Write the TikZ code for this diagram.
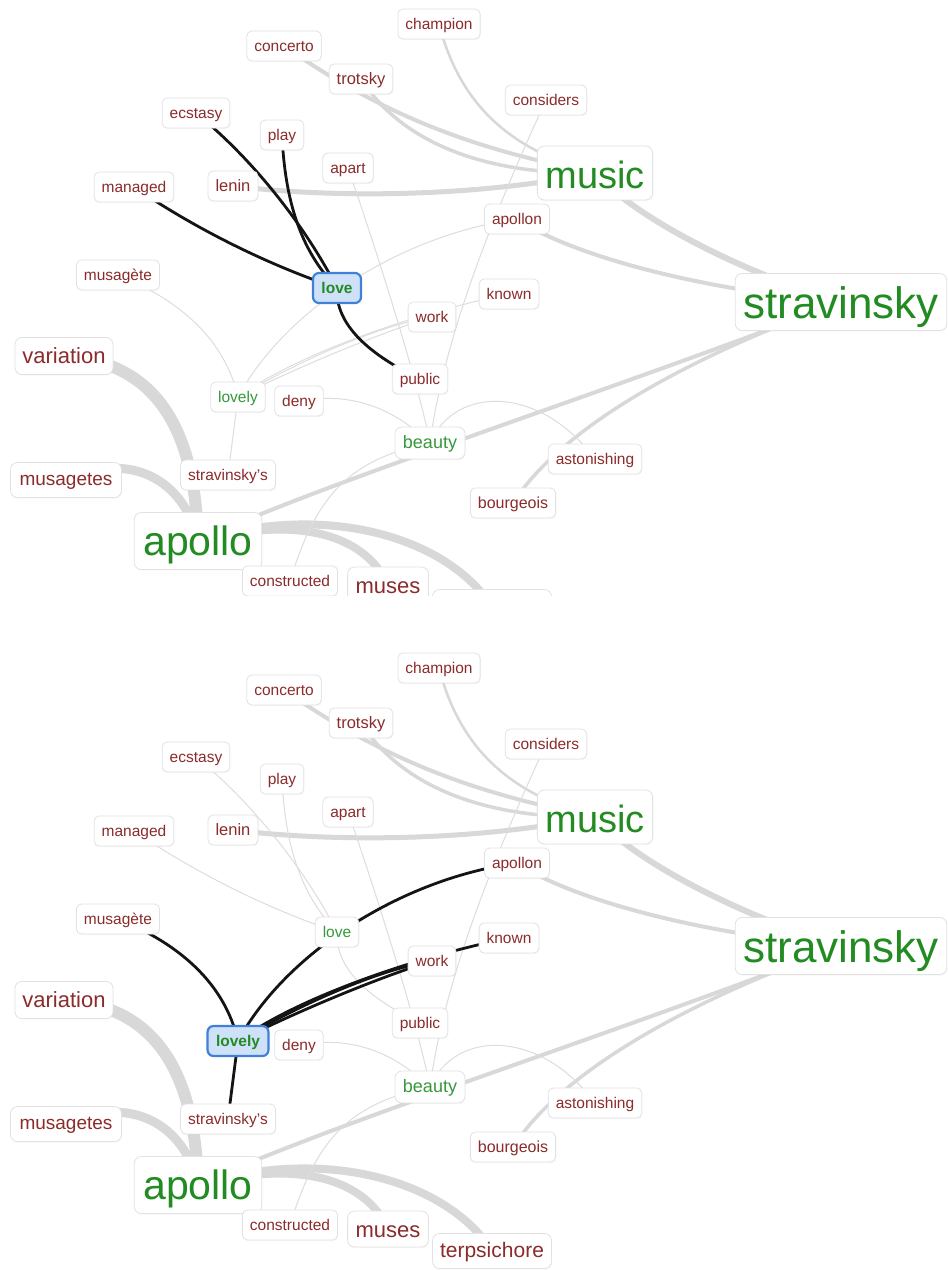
\documentclass[tikz,border=0pt]{standalone}
\usepackage{fontspec}
\setmainfont{Liberation Sans}
\usetikzlibrary{shadows}

\definecolor{wordred}{HTML}{8B2B2B}
\definecolor{wordgreen}{HTML}{228B22}
\definecolor{softgreen}{HTML}{35983A}
\definecolor{boxline}{HTML}{E2E2E2}
\definecolor{bandgray}{HTML}{D8D8D8}
\definecolor{threadgray}{HTML}{DDDDDD}
\definecolor{selfill}{HTML}{CFE1F8}
\definecolor{selline}{HTML}{3F80D8}

\pgfdeclarelayer{paper}
\pgfdeclarelayer{links}
\pgfsetlayers{paper,links,main}

\tikzset{
  word/.style={draw=boxline, line width=0.8pt, fill=white, rounded corners=5pt,
    text=wordred, inner xsep=7.5pt, inner ysep=0pt, minimum height=30pt,
    text height=11pt, text depth=0pt, font=\fontsize{15.5}{18}\selectfont,
    drop shadow={shadow xshift=0.6pt, shadow yshift=-1.2pt, opacity=0.06}},
  bigword/.style n args={3}{word, rounded corners=7pt, inner xsep=8pt,
    font=\fontsize{#1}{#1}\selectfont, minimum height=#2, text height=#3},
  hub/.style={text=wordgreen},
  soft/.style={text=softgreen},
  chosen/.style={draw=selline, line width=2.2pt, fill=selfill, rounded corners=6pt,
    text=wordgreen, font=\bfseries\fontsize{15.5}{18}\selectfont, inner xsep=8.5pt,
    inner ysep=0pt, minimum height=30pt, text height=11pt, text depth=0pt},
  band/.style={draw=bandgray, line width=#1},
  thread/.style={draw=threadgray, line width=1pt},
  hot/.style={draw=black!92, line width=2.8pt},
}

% all word boxes of one panel; #1 is the name prefix
\newcommand\wordnodes[1]{%
  \node[word] (#1champion) at (439,24) {champion};
  \node[word] (#1concerto) at (284,46) {concerto};
  \node[word, font=\fontsize{16.5}{18}\selectfont] (#1trotsky) at (361,79) {trotsky};
  \node[word] (#1considers) at (546,100) {considers};
  \node[word] (#1ecstasy) at (196,113) {ecstasy};
  \node[word] (#1play) at (282,135) {play};
  \node[word] (#1apart) at (348,168) {apart};
  \node[bigword={38}{54pt}{30pt}, hub] (#1music) at (595,173) {music};
  \node[word] (#1managed) at (134,187) {managed};
  \node[word, font=\fontsize{16.5}{18}\selectfont] (#1lenin) at (233,186) {lenin};
  \node[word] (#1apollon) at (517,219) {apollon};
  \node[word] (#1musagete) at (118,275) {musagète};
  \node[lovebox] (#1love) at (337,288) {love};
  \node[word] (#1known) at (509,294) {known};
  \node[bigword={44}{57pt}{32pt}, hub] (#1stravinsky) at (841,302) {stravinsky};
  \node[word] (#1work) at (432,317) {work};
  \node[bigword={22}{37pt}{14pt}, inner xsep=7.5pt] (#1variation) at (64,356) {variation};
  \node[word] (#1public) at (420,379) {public};
  \node[lovelybox] (#1lovely) at (238,397) {lovely};
  \node[word] (#1deny) at (299,401) {deny};
  \node[bigword={18}{32pt}{11pt}, soft] (#1beauty) at (430,443) {beauty};
  \node[word] (#1astonishing) at (595,459) {astonishing};
  \node[bigword={19}{35pt}{11pt}, inner xsep=9pt] (#1musagetes) at (66,480) {musagetes};
  \node[word] (#1stravinskys) at (228,475) {stravinsky's};
  \node[word, font=\fontsize{16}{18}\selectfont] (#1bourgeois) at (513,503) {bourgeois};
  \node[bigword={41}{57pt}{28pt}, inner xsep=9pt, hub] (#1apollo) at (198,541) {apollo};
  \node[word] (#1constructed) at (290,581) {constructed};
  \node[bigword={22}{36pt}{16pt}] (#1muses) at (388,585) {muses};
  \node[bigword={21}{35pt}{12pt}, inner xsep=7.5pt] (#1terpsichore) at (492,607) {terpsichore};
}

% links that look the same in both panels
\newcommand\wordlinks[1]{%
  \draw[band=12pt] (#1variation.center) .. controls (150,362) and (195,420) .. (#1apollo.center);
  \draw[band=9pt] (#1musagetes.center) .. controls (130,450) and (185,480) .. (#1apollo.center);
  \draw[band=8pt] (#1apollo.center) .. controls (330,500) and (450,540) .. (#1terpsichore.center);
  \draw[band=8pt] (#1apollo.center) .. controls (300,515) and (365,535) .. (#1muses.center);
  \draw[band=4pt] (#1apollo.center) .. controls (330,480) and (600,395) .. (#1stravinsky.center);
  \draw[band=6pt] (#1music.center) .. controls (640,222) and (750,275) .. (#1stravinsky.center);
  \draw[band=4pt] (#1apollon.center) .. controls (570,255) and (700,290) .. (#1stravinsky.center);
  \draw[band=3.5pt] (#1bourgeois.center) .. controls (560,430) and (680,360) .. (#1stravinsky.center);
  \draw[band=5pt] (#1lenin.center) .. controls (330,198) and (470,198) .. (#1music.center);
  \draw[band=4pt] (#1concerto.center) .. controls (390,120) and (480,150) .. (#1music.center);
  \draw[band=3.5pt] (#1trotsky.center) .. controls (400,140) and (480,175) .. (#1music.center);
  \draw[band=2.5pt] (#1champion.center) .. controls (460,105) and (510,150) .. (#1music.center);
  \draw[thread] (#1constructed.center) .. controls (315,500) and (345,460) .. (#1beauty.center);
  \draw[thread] (#1deny.center) .. controls (360,390) and (400,415) .. (#1beauty.center);
  \draw[thread] (#1beauty.center) .. controls (455,385) and (540,385) .. (#1astonishing.center);
  \draw[thread] (#1apart.center) .. controls (380,260) and (420,390) .. (#1beauty.center);
  \draw[thread] (#1considers.center) .. controls (500,200) and (445,330) .. (#1beauty.center);
}

% links of "lovely"; #2 is the line style
\newcommand\lovelylinks[2]{%
  \draw[#2] (#1musagete.center) .. controls (180,300) and (225,340) .. (#1lovely.center);
  \draw[#2] (#1lovely.center) -- (#1stravinskys.center);
  \draw[#2] (#1lovely.center) .. controls (285,310) and (400,235) .. (#1apollon.center);
  \draw[#2] (#1lovely.center) .. controls (300,360) and (380,325) .. (#1work.center);
  \draw[#2] (#1lovely.center) .. controls (300,366) and (380,333) .. (#1work.center);
  \draw[#2] (#1lovely.center) .. controls (300,352) and (420,312) .. (#1known.center);
}

% links of "love"; #2 is the line style
\newcommand\lovelinks[2]{%
  \draw[#2] (#1ecstasy.center) .. controls (260,165) and (310,235) .. (#1love.center);
  \draw[#2] (#1play.center) .. controls (285,200) and (300,250) .. (#1love.center);
  \draw[#2] (#1managed.center) .. controls (190,225) and (260,262) .. (#1love.center);
  \draw[#2] (#1love.center) .. controls (335,325) and (370,355) .. (#1public.center);
}

\begin{document}
\begin{tikzpicture}[x=1pt, y=-1pt]
  \useasboundingbox (0,0) rectangle (948,1270);
  \begin{pgfonlayer}{paper}
    \fill[white] (0,0) rectangle (948,1270);
  \end{pgfonlayer}

  % upper panel: "love" selected
  \begin{scope}[lovebox/.style={chosen},
                lovelybox/.style={word, text=softgreen}]
    \clip (0,0) rectangle (948,595);
    \wordnodes{t}
    \begin{pgfonlayer}{links}
      \begin{scope}
        \clip (0,0) rectangle (948,595);
        \wordlinks{t}
        \lovelylinks{t}{thread}
        \lovelinks{t}{hot}
      \end{scope}
    \end{pgfonlayer}
  \end{scope}

  % lower panel: "lovely" selected
  \begin{scope}[yshift=-644pt,
                lovebox/.style={word, text=softgreen},
                lovelybox/.style={chosen, inner xsep=8.5pt}]
    \wordnodes{b}
    \begin{pgfonlayer}{links}
      \wordlinks{b}
      \lovelinks{b}{thread}
      \lovelylinks{b}{hot}
    \end{pgfonlayer}
  \end{scope}
\end{tikzpicture}
\end{document}
